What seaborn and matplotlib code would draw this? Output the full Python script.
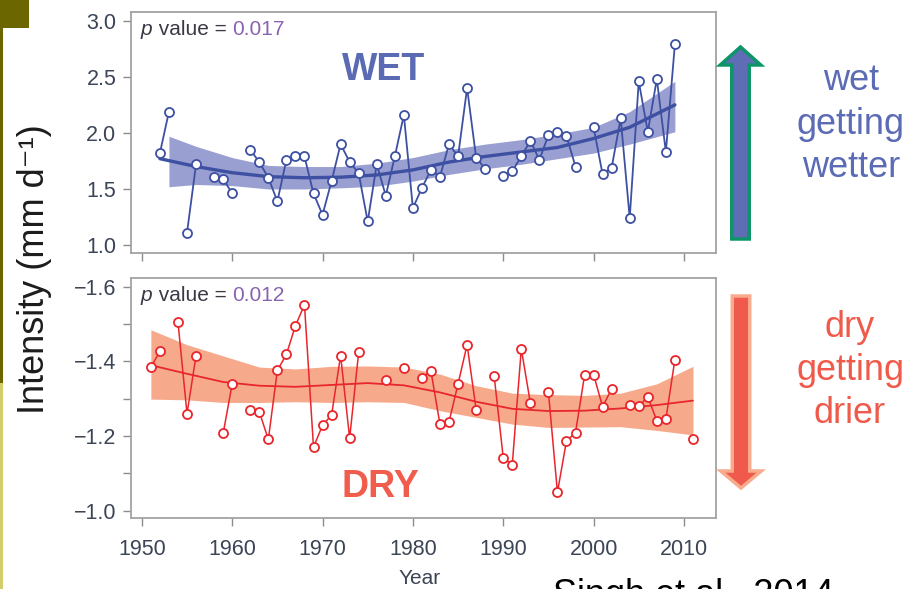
import numpy as np
import pandas as pd
import matplotlib
matplotlib.use("Agg")
import matplotlib.pyplot as plt
import seaborn as sns
from matplotlib.patches import FancyArrow, Rectangle

# Annual precipitation intensity, wet regions (mm/day)
wet_years = [1952, 1953, 1955, 1956, 1958, 1959, 1960, 1962, 1963, 1964, 1965,
             1966, 1967, 1968, 1969, 1970, 1971, 1972, 1973, 1974, 1975, 1976,
             1977, 1978, 1979, 1980, 1981, 1982, 1983, 1984, 1985, 1986, 1987,
             1988, 1990, 1991, 1992, 1993, 1994, 1995, 1996, 1997, 1998, 2000,
             2001, 2002, 2003, 2004, 2005, 2006, 2007, 2008, 2009]
wet_intensity = [1.82, 2.19, 1.11, 1.72, 1.61, 1.59, 1.46, 1.85, 1.74, 1.60, 1.39,
                 1.76, 1.79, 1.79, 1.46, 1.27, 1.57, 1.90, 1.74, 1.64, 1.21, 1.72,
                 1.44, 1.79, 2.16, 1.33, 1.51, 1.67, 1.61, 1.90, 1.79, 2.40, 1.78,
                 1.68, 1.62, 1.66, 1.79, 1.93, 1.76, 1.98, 2.01, 1.97, 1.70, 2.05,
                 1.63, 1.69, 2.13, 1.24, 2.46, 2.01, 2.48, 1.83, 2.79]

# Annual precipitation intensity, dry regions (plotted on a reversed axis)
dry_years = [1951, 1952, 1954, 1955, 1956, 1959, 1960, 1962, 1963, 1964, 1965,
             1966, 1967, 1968, 1969, 1970, 1971, 1972, 1973, 1974, 1977, 1979,
             1981, 1982, 1983, 1984, 1985, 1986, 1987, 1989, 1990, 1991, 1992,
             1993, 1995, 1996, 1997, 1998, 1999, 2000, 2001, 2002, 2004, 2005,
             2006, 2007, 2008, 2009, 2011]
dry_intensity = [-1.385, -1.427, -1.505, -1.260, -1.416, -1.207, -1.340, -1.271,
                 -1.265, -1.191, -1.376, -1.419, -1.496, -1.552, -1.170, -1.229,
                 -1.256, -1.416, -1.194, -1.425, -1.351, -1.383, -1.357, -1.374,
                 -1.231, -1.238, -1.340, -1.445, -1.271, -1.360, -1.142, -1.123,
                 -1.434, -1.289, -1.318, -1.049, -1.187, -1.209, -1.363, -1.365,
                 -1.278, -1.327, -1.284, -1.280, -1.305, -1.241, -1.245, -1.405,
                 -1.191]

# Fitted trends and their confidence bands
wet_fit_years = [1952, 1956, 1960, 1964, 1968, 1972, 1976, 1980, 1984, 1988,
                 1992, 1996, 2000, 2004, 2009]
wet_fit = [1.77, 1.70, 1.645, 1.61, 1.60, 1.605, 1.625, 1.67, 1.74, 1.79,
           1.83, 1.87, 1.95, 2.05, 2.25]
wet_band_years = [1953, 1956, 1960, 1964, 1968, 1972, 1976, 1980, 1984, 1988,
                  1992, 1996, 2000, 2004, 2009]
wet_band_low = [1.52, 1.54, 1.53, 1.50, 1.50, 1.51, 1.525, 1.57, 1.63, 1.68,
                1.72, 1.77, 1.82, 1.90, 2.01]
wet_band_high = [1.97, 1.88, 1.78, 1.71, 1.70, 1.70, 1.73, 1.78, 1.85, 1.90,
                 1.94, 1.99, 2.05, 2.19, 2.46]

dry_fit_years = [1951, 1955, 1959, 1963, 1967, 1971, 1975, 1979, 1983, 1987,
                 1991, 1995, 1999, 2003, 2007, 2011]
dry_fit = [-1.390, -1.367, -1.345, -1.335, -1.332, -1.337, -1.342, -1.336,
           -1.317, -1.292, -1.273, -1.267, -1.268, -1.274, -1.283, -1.295]
dry_band_low = [-1.485, -1.445, -1.415, -1.385, -1.380, -1.387, -1.388, -1.385,
                -1.366, -1.335, -1.315, -1.311, -1.309, -1.315, -1.340, -1.387]
dry_band_high = [-1.299, -1.297, -1.290, -1.290, -1.292, -1.290, -1.292, -1.290,
                 -1.268, -1.250, -1.232, -1.223, -1.224, -1.225, -1.215, -1.203]

p_wet = "0.017"
p_dry = "0.012"
year_ticks = [1950, 1960, 1970, 1980, 1990, 2000, 2010]
wet_ticks = [1.0, 1.5, 2.0, 2.5, 3.0]
dry_ticks = [-1.6, -1.4, -1.2, -1.0]
dry_minor = [-1.5, -1.3, -1.1]

sns.set_style("white")
plt.rcParams["font.family"] = ["Liberation Sans", "DejaVu Sans"]

W, H = 910, 589
fig = plt.figure(figsize=(W / 100, H / 100), dpi=100, facecolor="white")


def fx(px):
    return px / W


def fy(py):
    return 1 - py / H


ax_wet = fig.add_axes([fx(131), fy(253), 585 / W, 241 / H])
ax_dry = fig.add_axes([fx(131), fy(518), 585 / W, 240 / H])

WET_LINE = "#3d50a2"
WET_BAND = "#999fd0"
DRY_LINE = "#e8262c"
DRY_BAND = "#f7aa8b"
TICK_TXT = "#3c4556"
P_COLOR = "#8a63b0"


def runs(years):
    yrs = np.asarray(years)
    return np.concatenate([[0], np.cumsum(np.diff(yrs) > 1)])


def draw_series(ax, years, values, color, lw):
    df = pd.DataFrame({"year": years, "intensity": values, "seg": runs(years)})
    sns.lineplot(data=df, x="year", y="intensity", units="seg", estimator=None,
                 color=color, linewidth=lw, marker="o", markersize=6.5,
                 markerfacecolor="white", markeredgecolor=color,
                 markeredgewidth=1.3, legend=False, ax=ax, zorder=3)


# Wet panel
ax_wet.fill_between(wet_band_years, wet_band_low, wet_band_high,
                    color=WET_BAND, lw=0, zorder=1)
sns.lineplot(x=wet_fit_years, y=wet_fit, color=WET_LINE, linewidth=2.4,
             ax=ax_wet, zorder=2)
draw_series(ax_wet, wet_years, wet_intensity, WET_LINE, 1.3)

# Dry panel
ax_dry.fill_between(dry_fit_years, dry_band_low, dry_band_high,
                    color=DRY_BAND, lw=0, zorder=1)
sns.lineplot(x=dry_fit_years, y=dry_fit, color=DRY_LINE, linewidth=1.3,
             ax=ax_dry, zorder=2)
draw_series(ax_dry, dry_years, dry_intensity, DRY_LINE, 1.1)

for ax in (ax_wet, ax_dry):
    ax.set_xlim(1948.8, 2013.55)
    ax.set_xticks(year_ticks)
    ax.set_xlabel("")
    ax.set_ylabel("")
    for s in ax.spines.values():
        s.set_visible(True)
        s.set_color("#a3a3a3")
        s.set_linewidth(1.3)
    ax.tick_params(axis="both", which="both", direction="out", length=6,
                   width=1.0, color="#8c8c8c", labelsize=15.5,
                   labelcolor=TICK_TXT, left=True, bottom=True)
    ax.tick_params(axis="y", pad=4.5)
    ax.tick_params(axis="x", pad=9)
    ax.set_facecolor("white")

ax_wet.set_ylim(0.929, 3.078)
ax_wet.set_yticks(wet_ticks)
ax_wet.tick_params(axis="x", labelbottom=False)

ax_dry.set_ylim(-0.980, -1.624)
ax_dry.set_yticks(dry_ticks)
ax_dry.set_yticks(dry_minor, minor=True)


def p_label(ax, y, value):
    t1 = ax.text(0.017, y, "p", style="italic", fontsize=15, color="#3a3a46",
                 transform=ax.transAxes, ha="left", va="baseline")
    t2 = ax.annotate(" value = ", xy=(1, 0), xycoords=t1, fontsize=15,
                     color="#3a3a46", ha="left", va="bottom")
    ax.annotate(value, xy=(1, 0), xycoords=t2, fontsize=15, color=P_COLOR,
                ha="left", va="bottom")


p_label(ax_wet, 0.905, p_wet)
p_label(ax_dry, 0.904, p_dry)

ax_wet.text(0.431, 0.718, "WET", transform=ax_wet.transAxes, ha="center",
            va="baseline", fontsize=27, fontweight="bold", color="#5a6bb4")
ax_dry.text(0.4265, 0.0875, "DRY", transform=ax_dry.transAxes, ha="center",
            va="baseline", fontsize=27, fontweight="bold", color="#f05d4c")

# Axis titles
fig.text(fx(35), fy(269), "Intensity (mm d\u207b\u00b9)", rotation=90,
         ha="center", va="center", fontsize=26, color="#1c1c1c")
fig.text(fx(420), fy(584), "Year", ha="center", va="baseline",
         fontsize=15, color=TICK_TXT)

# Side annotations
for text, py in (("wet", 90), ("getting", 134), ("wetter", 177)):
    fig.text(fx(851), fy(py), text, ha="center", va="baseline",
             fontsize=26, color="#5b6bb5")
for text, py in (("dry", 337), ("getting", 380), ("drier", 423)):
    fig.text(fx(850), fy(py), text, ha="center", va="baseline",
             fontsize=26, color="#f05a4a")

up = FancyArrow(fx(740.5), fy(239), 0, fy(47) - fy(239), width=17.5 / W,
                head_width=40.5 / W, head_length=18 / H,
                length_includes_head=True, transform=fig.transFigure,
                facecolor="#5f6db5", edgecolor="#0d9469", linewidth=2.5)
down = FancyArrow(fx(741), fy(296), 0, fy(488) - fy(296), width=17.5 / W,
                  head_width=40.5 / W, head_length=17 / H,
                  length_includes_head=True, transform=fig.transFigure,
                  facecolor="#f05a4c", edgecolor="#f8ab8d", linewidth=2.5)
fig.add_artist(up)
fig.add_artist(down)

# Slide frame accents on the left edge
fig.add_artist(Rectangle((0, fy(28)), 29 / W, 28 / H, transform=fig.transFigure,
                         facecolor="#6b6600", edgecolor="none"))
fig.add_artist(Rectangle((0, fy(383)), 3 / W, (383 - 28) / H,
                         transform=fig.transFigure, facecolor="#6b6600",
                         edgecolor="none"))
fig.add_artist(Rectangle((0, 0), 3 / W, fy(383), transform=fig.transFigure,
                         facecolor="#d3ce6c", edgecolor="none"))

fig.text(fx(553), fy(605), "Singh et al., 2014", ha="left", va="baseline",
         fontsize=26, color="black")

fig.savefig("out.png", dpi=100, facecolor="white")
